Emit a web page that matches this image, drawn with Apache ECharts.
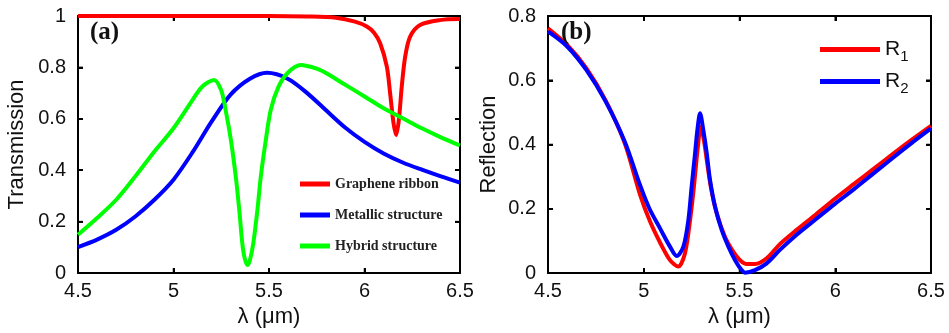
<!DOCTYPE html>
<html>
<head>
<meta charset="utf-8">
<script src="https://cdn.jsdelivr.net/npm/echarts@6/dist/echarts.min.js"></script>
<style>
  html, body { margin: 0; padding: 0; background: #fff; }
  #chart { width: 949px; height: 333px; }
</style>
</head>
<body>
<div id="chart"></div>
<script>
// (a) transmission spectra
const grapheneX = [4.5, 5.0, 5.5, 5.7, 5.85, 5.95, 6.012, 6.05, 6.082, 6.117, 6.134, 6.152, 6.166, 6.18, 6.195, 6.213, 6.239, 6.291, 6.395, 6.5]
const grapheneT = [1, 1, 1, 0.998, 0.993, 0.978, 0.959, 0.935, 0.894, 0.803, 0.7, 0.583, 0.537, 0.596, 0.725, 0.842, 0.92, 0.965, 0.984, 0.988]

const metallicX = [4.5, 4.6, 4.7, 4.8, 4.9, 5.0, 5.1, 5.2, 5.3, 5.4, 5.49, 5.6, 5.7, 5.8, 5.9, 6.0, 6.1, 6.2, 6.3, 6.4, 6.5]
const metallicT = [0.101, 0.13, 0.168, 0.22, 0.285, 0.363, 0.47, 0.59, 0.695, 0.756, 0.779, 0.755, 0.7, 0.632, 0.565, 0.51, 0.465, 0.43, 0.402, 0.376, 0.352]

const hybridX = [4.5, 4.6, 4.7, 4.8, 4.9, 5.0, 5.1, 5.15, 5.212, 5.25, 5.273, 5.3, 5.326, 5.345, 5.36, 5.372, 5.387, 5.4, 5.418, 5.44, 5.457, 5.48, 5.509, 5.55, 5.6, 5.666, 5.75, 5.8, 5.9, 6.0, 6.1, 6.2, 6.3, 6.4, 6.5]
const hybridT = [0.149, 0.214, 0.285, 0.376, 0.473, 0.563, 0.674, 0.725, 0.751, 0.71, 0.634, 0.52, 0.375, 0.24, 0.117, 0.06, 0.031, 0.05, 0.117, 0.25, 0.375, 0.5, 0.634, 0.725, 0.78, 0.809, 0.795, 0.777, 0.732, 0.687, 0.641, 0.602, 0.563, 0.528, 0.496]

// (b) reflection spectra
const r1X = [4.5, 4.6, 4.7, 4.8, 4.9, 4.98, 5.033, 5.085, 5.137, 5.18, 5.215, 5.242, 5.262, 5.282, 5.298, 5.315, 5.329, 5.35, 5.381, 5.424, 5.468, 5.503, 5.538, 5.581, 5.642, 5.711, 5.8, 5.9, 6.0, 6.1, 6.2, 6.3, 6.4, 6.5]
const r1 = [0.762, 0.71, 0.638, 0.538, 0.405, 0.245, 0.16, 0.095, 0.04, 0.02, 0.061, 0.165, 0.269, 0.39, 0.455, 0.41, 0.352, 0.269, 0.186, 0.113, 0.066, 0.04, 0.028, 0.028, 0.046, 0.09, 0.135, 0.183, 0.232, 0.278, 0.324, 0.37, 0.415, 0.458]

const r2X = [4.5, 4.6, 4.7, 4.8, 4.9, 4.98, 5.03, 5.085, 5.137, 5.172, 5.207, 5.233, 5.25, 5.268, 5.28, 5.294, 5.311, 5.329, 5.346, 5.372, 5.407, 5.442, 5.477, 5.511, 5.529, 5.581, 5.642, 5.711, 5.8, 5.9, 6.0, 6.1, 6.2, 6.3, 6.4, 6.5]
const r2 = [0.752, 0.705, 0.632, 0.535, 0.41, 0.275, 0.2, 0.139, 0.082, 0.053, 0.082, 0.165, 0.269, 0.373, 0.445, 0.497, 0.445, 0.373, 0.29, 0.207, 0.134, 0.082, 0.04, 0.009, 0.001, 0.009, 0.03, 0.072, 0.12, 0.168, 0.216, 0.262, 0.31, 0.358, 0.405, 0.45]

// tick positions
const xTickVals = [4.5, 5, 5.5, 6, 6.5]
const transTicks = [0, 0.2, 0.4, 0.6, 0.8, 1]
const reflTicks = [0, 0.2, 0.4, 0.6, 0.8]

const xTicks = { min: 4.5, max: 6.5, interval: 0.5 }

const chart = echarts.init(document.getElementById('chart'))

const sans = 'Liberation Sans, Arial, sans-serif'
const serif = 'Liberation Serif, Times New Roman, serif'

function pairs(xs, ys) {
  return xs.map((x, i) => [x, ys[i]])
}

function lineSeries(name, xs, ys, color, idx) {
  return {
    name,
    type: 'line',
    xAxisIndex: idx * 2,
    yAxisIndex: idx * 2,
    data: pairs(xs, ys),
    showSymbol: false,
    smooth: 0.3,
    lineStyle: { color, width: 4 },
    itemStyle: { color },
  }
}

function axisLine() {
  return { show: true, onZero: false, lineStyle: { color: 'black', width: 2 } }
}
function axisTick() {
  return { show: true, inside: true, length: 5, lineStyle: { color: 'black', width: 2 } }
}

function mainX(gridIndex) {
  return {
    type: 'value', gridIndex, ...xTicks,
    name: 'λ (μm)', nameLocation: 'middle', nameGap: 30,
    nameTextStyle: { fontSize: 22, color: '#111', fontFamily: sans },
    axisLine: axisLine(), axisTick: axisTick(),
    axisLabel: { fontSize: 20, color: '#111', fontFamily: sans, margin: 8 },
    splitLine: { show: false },
  }
}

function mirrorX(gridIndex) {
  return {
    type: 'value', gridIndex, ...xTicks, position: 'top',
    axisLine: axisLine(), axisTick: axisTick(),
    axisLabel: { show: false },
    splitLine: { show: false },
  }
}

function mainY(gridIndex, name, max, nameGap) {
  return {
    type: 'value', gridIndex, min: 0, max, interval: 0.2,
    name, nameLocation: 'middle', nameGap,
    nameTextStyle: { fontSize: 22, color: '#111', fontFamily: sans },
    axisLine: axisLine(), axisTick: axisTick(),
    axisLabel: { fontSize: 20, color: '#111', fontFamily: sans, margin: 12 },
    splitLine: { show: false },
  }
}

function mirrorY(gridIndex, max) {
  return {
    type: 'value', gridIndex, min: 0, max, interval: 0.2, position: 'right',
    axisLine: axisLine(), axisTick: axisTick(),
    axisLabel: { show: false },
    splitLine: { show: false },
  }
}

const panelLabel = { fontFamily: serif, fontWeight: 'bold', fontSize: 25, color: '#111' }

chart.setOption({
  animation: false,
  title: [
    { text: '(a)', left: 85, top: 15, textStyle: panelLabel },
    { text: '(b)', left: 556, top: 15, textStyle: panelLabel },
  ],
  grid: [
    { left: 78, right: 489, top: 16, bottom: 60 },
    { left: 548, right: 18, top: 16, bottom: 60 },
  ],
  xAxis: [mainX(0), mirrorX(0), mainX(1), mirrorX(1)],
  yAxis: [
    mainY(0, 'Transmission', 1, 50),
    mirrorY(0, 1),
    mainY(1, 'Reflection', 0.8, 48),
    mirrorY(1, 0.8),
  ],
  legend: [
    {
      orient: 'vertical', left: 295, top: 172,
      icon: 'rect', itemWidth: 30, itemHeight: 5, itemGap: 17,
      data: ['Graphene ribbon', 'Metallic structure', 'Hybrid structure'],
      textStyle: { fontFamily: serif, fontWeight: 'bold', fontSize: 14, color: '#222' },
    },
    {
      orient: 'vertical', left: 815, top: 34,
      icon: 'rect', itemWidth: 60, itemHeight: 5, itemGap: 7,
      data: ['R1', 'R2'],
      formatter: n => '{b|R}{s|' + n.slice(1) + '}',
      textStyle: {
        rich: {
          b: { fontFamily: sans, fontSize: 21, color: '#111' },
          s: { fontFamily: sans, fontSize: 15, color: '#111', padding: [14, 0, 0, 0] },
        },
      },
    },
  ],
  series: [
    lineSeries('Graphene ribbon', grapheneX, grapheneT, '#ff0000', 0),
    lineSeries('Metallic structure', metallicX, metallicT, '#0000ff', 0),
    lineSeries('Hybrid structure', hybridX, hybridT, '#00ff00', 0),
    lineSeries('R1', r1X, r1, '#ff0000', 1),
    lineSeries('R2', r2X, r2, '#0000ff', 1),
  ],
})

// box and mirrored ticks, placed through the grid's own scales
function frame(gridIndex, yMax, yTickVals) {
  const finder = { gridIndex }
  const [l, b] = chart.convertToPixel(finder, [xTickVals[0], 0])
  const [r, t] = chart.convertToPixel(finder, [xTickVals[xTickVals.length - 1], yMax])
  const style = { stroke: '#000', lineWidth: 1.5 }
  const seg = (x1, y1, x2, y2) => ({ type: 'line', silent: true, shape: { x1, y1, x2, y2 }, style })
  const els = [{
    type: 'rect', silent: true,
    shape: { x: l, y: t, width: r - l, height: b - t },
    style: { ...style, fill: 'none' },
  }]
  xTickVals.forEach(v => {
    const x = chart.convertToPixel(finder, [v, 0])[0]
    els.push(seg(x, b, x, b - 5), seg(x, t, x, t + 5))
  })
  yTickVals.forEach(v => {
    const y = chart.convertToPixel(finder, [xTickVals[0], v])[1]
    els.push(seg(l, y, l + 5, y), seg(r, y, r - 5, y))
  })
  return els
}

chart.setOption({
  graphic: [...frame(0, 1, transTicks), ...frame(1, 0.8, reflTicks)],
})
</script>
</body>
</html>
